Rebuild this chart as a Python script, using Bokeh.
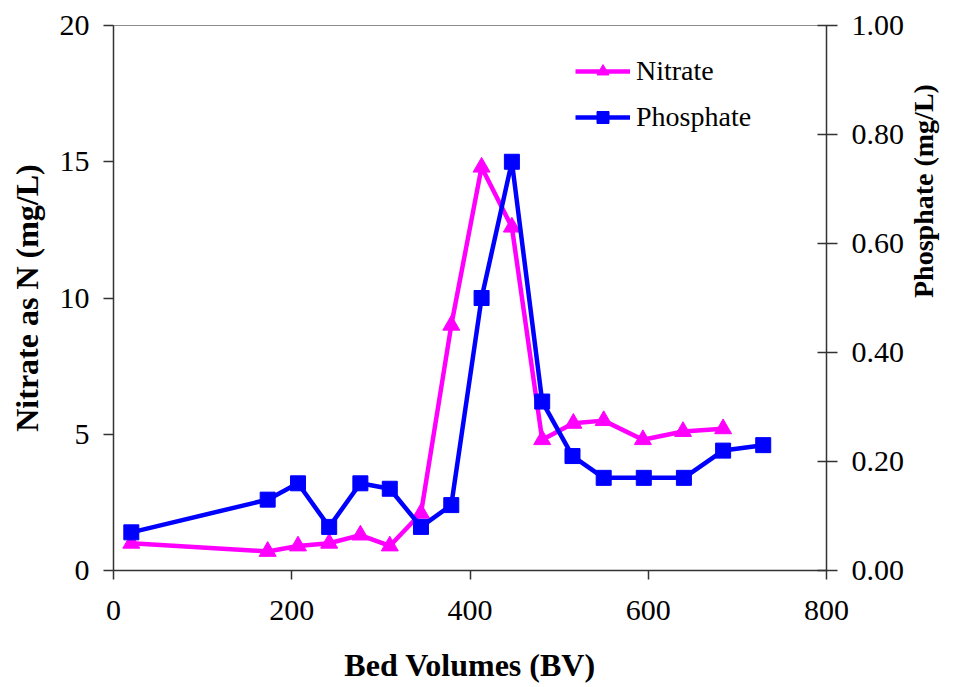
import math
from bokeh.plotting import figure
from bokeh.models import (Range1d, LinearAxis, SingleIntervalTicker, NumeralTickFormatter,
                          Legend, LegendItem)
from bokeh.embed import file_html
from bokeh.resources import INLINE

# Data
nitrate_bv = [20, 173, 207, 242, 277, 310, 345, 379, 413, 447, 481, 516, 550, 594, 639, 684]
nitrate_val = [1.0, 0.7, 0.9, 1.0, 1.3, 0.9, 2.1, 9.0, 14.8, 12.6, 4.8, 5.4, 5.5, 4.8, 5.1, 5.2]
phos_bv = [20, 173, 207, 242, 277, 310, 345, 379, 413, 447, 481, 515, 550, 595, 640, 684, 729]
phos_val = [0.07, 0.13, 0.16, 0.08, 0.16, 0.15, 0.08, 0.12, 0.50, 0.75, 0.31, 0.21, 0.17, 0.17, 0.17, 0.22, 0.23]

FONT = "Liberation Serif"
TICK_PX = "30px"
LABEL_PX = "32px"

p = figure(width=958, height=687, output_backend="svg", toolbar_location=None,
           x_range=Range1d(0, 800), y_range=Range1d(0, 20),
           min_border_left=113, min_border_right=132, min_border_top=25, min_border_bottom=117)
p.outline_line_color = "#8c8c8c"
p.outline_line_width = 1
p.xgrid.visible = False
p.ygrid.visible = False
p.extra_y_ranges = {"phos": Range1d(0, 1.0)}

def style_axis(ax, label):
    ax.axis_label = label
    ax.axis_label_text_font = FONT
    ax.axis_label_text_font_style = "bold"
    ax.axis_label_text_font_size = LABEL_PX
    ax.axis_label_text_color = "black"
    ax.major_label_text_font = FONT
    ax.major_label_text_font_size = TICK_PX
    ax.major_label_text_color = "black"
    ax.axis_line_color = "#333333"
    ax.axis_line_width = 1.5
    ax.major_tick_line_color = "#333333"
    ax.major_tick_line_width = 1.5
    ax.major_tick_in = 0
    ax.major_tick_out = 10
    ax.minor_tick_line_color = None

p.xaxis.ticker = SingleIntervalTicker(interval=200)
p.yaxis.ticker = SingleIntervalTicker(interval=5)
style_axis(p.xaxis[0], "Bed Volumes (BV)")
style_axis(p.yaxis[0], "Nitrate as N (mg/L)")
p.xaxis.major_tick_out = 9
p.xaxis.major_label_standoff = 21
p.xaxis.axis_label_standoff = 24
p.yaxis.major_label_standoff = 14
p.yaxis.axis_label_standoff = 12

rax = LinearAxis(y_range_name="phos", ticker=SingleIntervalTicker(interval=0.2),
                 formatter=NumeralTickFormatter(format="0.00"))
style_axis(rax, "Phosphate (mg/L)")
rax.axis_label_text_font_size = "28px"
rax.major_tick_in = 9
rax.major_tick_out = 11
rax.major_label_standoff = 14
rax.axis_label_standoff = 16
rax.axis_label_orientation = math.pi / 2
p.add_layout(rax, "right")

nl = p.line(nitrate_bv, nitrate_val, line_color="#FF00FF", line_width=4.5)
nm = p.scatter(nitrate_bv, nitrate_val, marker="triangle", size=17, fill_color="#FF00FF", line_color="#FF00FF")
pl = p.line(phos_bv, phos_val, line_color="#0000FF", line_width=4.5, y_range_name="phos")
pm = p.scatter(phos_bv, phos_val, marker="square", size=15, fill_color="#0000FF", line_color="#0000FF", y_range_name="phos")

legend = Legend(items=[LegendItem(label="Nitrate", renderers=[nl, nm]),
                       LegendItem(label="Phosphate", renderers=[pl, pm])],
                location=(462, 437), orientation="vertical")
legend.border_line_color = None
legend.background_fill_alpha = 0
legend.label_text_font = FONT
legend.label_text_font_size = "28px"
legend.label_text_color = "black"
legend.glyph_width = 55
legend.glyph_height = 30
legend.label_height = 30
legend.label_standoff = 6
legend.spacing = 14
legend.padding = 0
legend.margin = 0
p.add_layout(legend)

open("out.html", "w").write(file_html(p, INLINE))
